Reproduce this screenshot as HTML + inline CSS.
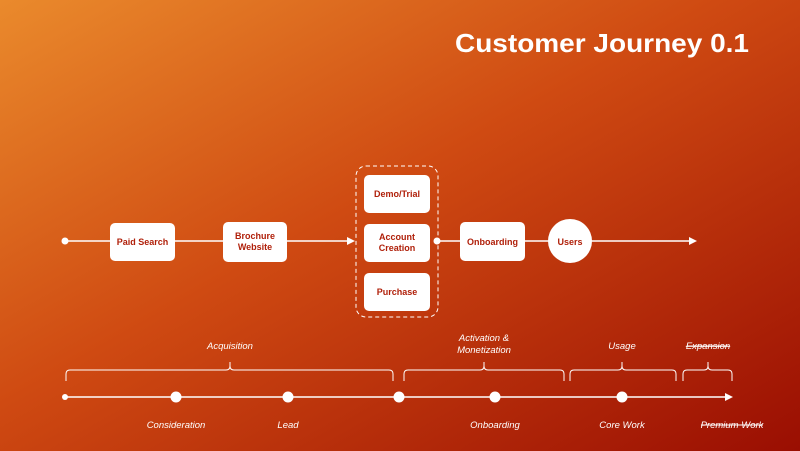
<!DOCTYPE html>
<html><head><meta charset="utf-8"><style>
html,body{margin:0;padding:0;width:800px;height:451px;overflow:hidden}
svg{display:block}
text{font-family:"Liberation Sans",sans-serif}
.bx{font-size:9px;font-weight:bold;fill:#b0200a;text-anchor:middle}
.it{font-size:9.5px;font-style:italic;fill:#fff;text-anchor:middle}
</style></head><body>
<svg width="800" height="451" viewBox="0 0 800 451" xmlns="http://www.w3.org/2000/svg">
<defs>
<linearGradient id="g" x1="0" y1="0" x2="1" y2="1" gradientUnits="objectBoundingBox">
<stop offset="0" stop-color="#ea8a2c"/>
<stop offset="0.45" stop-color="#cf4a12"/>
<stop offset="1" stop-color="#9a0e02"/>
</linearGradient>
</defs>
<rect width="800" height="451" fill="url(#g)"/>
<text x="455" y="52" fill="#fff" font-size="26" font-weight="bold" textLength="294" lengthAdjust="spacingAndGlyphs">Customer Journey 0.1</text>

<!-- top flow -->
<line x1="65" y1="241" x2="352" y2="241" stroke="#fff" stroke-width="1.5"/>
<polygon points="355,241 347,237 347,245" fill="#fff"/>
<line x1="437" y1="241" x2="692" y2="241" stroke="#fff" stroke-width="1.5"/>
<polygon points="697,241 689,237 689,245" fill="#fff"/>
<circle cx="65" cy="241" r="3.5" fill="#fff"/>
<circle cx="437" cy="241" r="3.5" fill="#fff"/>
<rect x="110" y="223" width="65" height="38" rx="5" fill="#fff"/>
<text class="bx" x="142.5" y="245">Paid Search</text>
<rect x="223" y="222" width="64" height="40" rx="5" fill="#fff"/>
<text class="bx" x="255" y="239">Brochure</text>
<text class="bx" x="255" y="250">Website</text>
<rect x="356" y="166" width="82" height="151" rx="10" fill="none" stroke="#fff" stroke-width="1" stroke-dasharray="4,3"/>
<rect x="364" y="175" width="66" height="38" rx="5" fill="#fff"/>
<text class="bx" x="397" y="197">Demo/Trial</text>
<rect x="364" y="224" width="66" height="38" rx="5" fill="#fff"/>
<text class="bx" x="397" y="240">Account</text>
<text class="bx" x="397" y="251">Creation</text>
<rect x="364" y="273" width="66" height="38" rx="5" fill="#fff"/>
<text class="bx" x="397" y="295">Purchase</text>
<rect x="460" y="222" width="65" height="39" rx="5" fill="#fff"/>
<text class="bx" x="492.5" y="245">Onboarding</text>
<circle cx="570" cy="241" r="22" fill="#fff"/>
<text class="bx" x="570" y="245">Users</text>

<!-- bottom timeline -->
<line x1="65" y1="397" x2="728" y2="397" stroke="#fff" stroke-width="1.5"/>
<polygon points="733,397 725,393 725,401" fill="#fff"/>
<circle cx="65" cy="397" r="3" fill="#fff"/>
<g fill="#fff">
<circle cx="176" cy="397" r="5.5"/><circle cx="288" cy="397" r="5.5"/>
<circle cx="399" cy="397" r="5.5"/><circle cx="495" cy="397" r="5.5"/>
<circle cx="622" cy="397" r="5.5"/>
</g>
<g fill="none" stroke="#fff" stroke-width="1">
<path d="M66,381 V374 Q66,370 70,370 H226 Q230,370 230,366 V362 M230,366 Q230,370 234,370 H389 Q393,370 393,374 V381"/>
<path d="M404,381 V374 Q404,370 408,370 H480 Q484,370 484,366 V362 M484,366 Q484,370 488,370 H560 Q564,370 564,374 V381"/>
<path d="M570,381 V374 Q570,370 574,370 H618 Q622,370 622,366 V362 M622,366 Q622,370 626,370 H672 Q676,370 676,374 V381"/>
<path d="M683,381 V374 Q683,370 687,370 H704 Q708,370 708,366 V362 M708,366 Q708,370 712,370 H728 Q732,370 732,374 V381"/>
</g>
<text class="it" x="230" y="349">Acquisition</text>
<text class="it" x="484" y="341">Activation &amp;</text>
<text class="it" x="484" y="353">Monetization</text>
<text class="it" x="622" y="349">Usage</text>
<text class="it" x="708" y="349" text-decoration="line-through">Expansion</text>
<line x1="688" y1="346" x2="728" y2="346" stroke="#fff" stroke-width="1"/>
<text class="it" x="176" y="428">Consideration</text>
<text class="it" x="288" y="428">Lead</text>
<text class="it" x="495" y="428">Onboarding</text>
<text class="it" x="622" y="428">Core Work</text>
<text class="it" x="732" y="428">Premium Work</text>
<line x1="701" y1="425" x2="763" y2="425" stroke="#fff" stroke-width="1"/>
</svg>
</body></html>
